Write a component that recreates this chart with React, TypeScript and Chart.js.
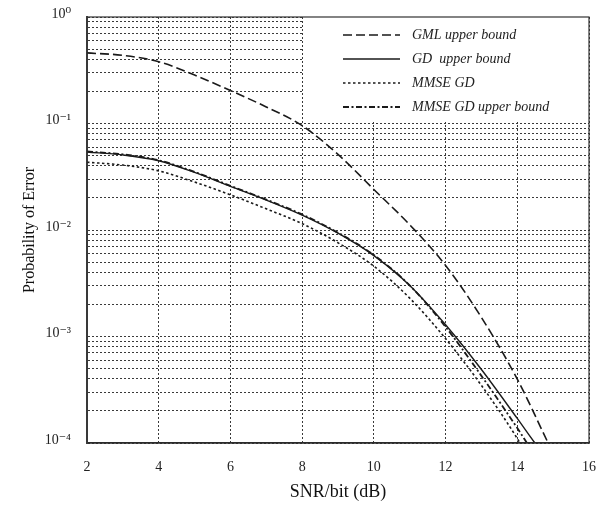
import React, { useEffect, useRef } from 'react';
import { Chart, registerables } from 'chart.js';

Chart.register(...registerables);

// ---- data ----
const gmlSnr = [2, 3, 4, 5, 6, 7, 8, 9, 10, 11, 12, 13, 14, 14.86];
const gmlPe = [0.46, 0.4365, 0.38, 0.285, 0.204, 0.143, 0.0955, 0.0513, 0.024, 0.0112, 0.00465, 0.00151, 0.000398, 0.0001];

const gdSnr = [2, 3, 4, 5, 6, 7, 8, 9, 10, 11, 12, 13, 14, 14.49];
const gdPe = [0.054, 0.0507, 0.0447, 0.0347, 0.0257, 0.0191, 0.0138, 0.00933, 0.00575, 0.00302, 0.00129, 0.00049, 0.00017, 0.0001];

const mmseSnr = [2, 3, 4, 5, 6, 7, 8, 9, 10, 11, 12, 13, 14, 14.07];
const mmsePe = [0.0433, 0.0407, 0.0359, 0.0282, 0.0214, 0.0158, 0.01148, 0.00759, 0.00457, 0.00229, 0.000955, 0.000347, 0.00011, 0.0001];

const mmseUbSnr = [2, 3, 4, 5, 6, 7, 8, 9, 10, 11, 12, 13, 14, 14.27];
const mmseUbPe = [0.0547, 0.0513, 0.0452, 0.0351, 0.026, 0.0193, 0.014, 0.00944, 0.00582, 0.00302, 0.00123, 0.000427, 0.000138, 0.0001];

const seriesLabels = ['GML upper bound', 'GD  upper bound', 'MMSE GD', 'MMSE GD upper bound'];

const xTicks = [2, 4, 6, 8, 10, 12, 14, 16];
const yDecades = [1e-4, 1e-3, 1e-2, 1e-1, 1];
const yDecadeLabels = ['10\u207B\u2074', '10\u207B\u00B3', '10\u207B\u00B2', '10\u207B\u00B9', '10\u2070'];
const yMantissas = [1, 2, 3, 4, 5, 6, 7, 8, 9];

const SERIF = "'Liberation Serif', 'DejaVu Serif', serif";
const INK = '#1a1a1a';

const pts = (xs: number[], ys: number[]) => xs.map((x, i) => ({ x, y: ys[i] }));

const yGridValues: number[] = [];
for (let d = 0; d < yDecades.length - 1; d++) {
  for (const m of yMantissas) yGridValues.push(m * yDecades[d]);
}
yGridValues.push(yDecades[yDecades.length - 1]);

const decadeLabel = (v: number) => {
  for (let i = 0; i < yDecades.length; i++) {
    if (Math.abs(v - yDecades[i]) / yDecades[i] < 1e-6) return yDecadeLabels[i];
  }
  return '';
};

const insetLegend = {
  id: 'insetLegend',
  beforeDatasetsDraw(chart: any) {
    const { ctx, chartArea, scales } = chart;
    const x0 = scales.x.getPixelForValue(8) + 1.5;
    const y1 = scales.y.getPixelForValue(0.1) - 1.5;
    ctx.save();
    ctx.fillStyle = '#ffffff';
    ctx.fillRect(x0, chartArea.top, chartArea.right - x0, y1 - chartArea.top);
    chart.data.datasets.forEach((ds: any, i: number) => {
      const y = 35 + i * 24;
      ctx.strokeStyle = ds.borderColor;
      ctx.lineWidth = ds.borderWidth;
      ctx.setLineDash(ds.borderDash || []);
      ctx.beginPath();
      ctx.moveTo(343, y);
      ctx.lineTo(400, y);
      ctx.stroke();
      ctx.setLineDash([]);
      ctx.fillStyle = '#222';
      ctx.font = `italic 14px ${SERIF}`;
      ctx.textBaseline = 'middle';
      ctx.textAlign = 'left';
      ctx.fillText(ds.label, 412, y);
    });
    ctx.restore();
  },
};

const frame = {
  id: 'frame',
  afterDraw(chart: any) {
    const { ctx, chartArea } = chart;
    ctx.save();
    ctx.strokeStyle = '#333';
    ctx.lineWidth = 1.2;
    ctx.strokeRect(chartArea.left, chartArea.top, chartArea.right - chartArea.left, chartArea.bottom - chartArea.top);
    ctx.restore();
  },
};

export default function App() {
  const ref = useRef<HTMLCanvasElement>(null);

  useEffect(() => {
    const line = (label: string, data: any[], dash: number[], width: number) => ({
      label,
      data,
      borderColor: INK,
      borderWidth: width,
      borderDash: dash,
      pointRadius: 0,
      fill: false,
      tension: 0.4,
      cubicInterpolationMode: 'monotone' as const,
    });

    const chart = new Chart(ref.current as HTMLCanvasElement, {
      type: 'line',
      data: {
        datasets: [
          line(seriesLabels[0], pts(gmlSnr, gmlPe), [9, 4], 1.6),
          line(seriesLabels[1], pts(gdSnr, gdPe), [], 1.4),
          line(seriesLabels[2], pts(mmseSnr, mmsePe), [2.5, 2.5], 1.6),
          line(seriesLabels[3], pts(mmseUbSnr, mmseUbPe), [6, 2.5, 2, 2.5], 1.8),
        ],
      },
      options: {
        responsive: false,
        animation: false,
        devicePixelRatio: 1,
        layout: { padding: { top: 17, right: 23, bottom: 0, left: 0 } },
        plugins: { legend: { display: false }, tooltip: { enabled: false } },
        scales: {
          x: {
            type: 'linear',
            min: 2,
            max: 16,
            afterBuildTicks: (scale: any) => {
              scale.ticks = xTicks.map((v) => ({ value: v }));
            },
            afterFit: (scale: any) => {
              scale.height = 63;
            },
            ticks: {
              autoSkip: false,
              maxRotation: 0,
              padding: 3,
              color: '#222',
              font: { family: SERIF, size: 14 },
              callback: (v: any) => String(v),
            },
            grid: { color: '#3a3a3a', lineWidth: 1, drawTicks: true, tickLength: 13, tickColor: 'rgba(0,0,0,0)' },
            border: { display: true, color: '#222', width: 1.6, dash: [2, 2] },
            title: {
              display: true,
              text: 'SNR/bit (dB)',
              color: '#111',
              font: { family: SERIF, size: 18 },
              padding: { top: 0, bottom: 3 },
            },
          },
          y: {
            type: 'logarithmic',
            min: 1e-4,
            max: 1,
            afterBuildTicks: (scale: any) => {
              scale.ticks = yGridValues.map((v) => ({ value: v }));
            },
            afterFit: (scale: any) => {
              scale.width = 87;
            },
            ticks: {
              autoSkip: false,
              padding: 3,
              labelOffset: -3,
              color: '#222',
              font: { family: SERIF, size: 14 },
              callback: (v: any) => decadeLabel(Number(v)),
            },
            grid: { color: '#3a3a3a', lineWidth: 1, drawTicks: true, tickLength: 13, tickColor: 'rgba(0,0,0,0)' },
            border: { display: true, color: '#444', width: 2, dash: [2, 2] },
            title: {
              display: true,
              text: 'Probability of Error',
              color: '#111',
              font: { family: SERIF, size: 16 },
              padding: { top: 20, bottom: 0 },
            },
          },
        },
      } as any,
      plugins: [insetLegend, frame],
    });
    return () => chart.destroy();
  }, []);

  return (
    <div style={{ position: 'fixed', left: 0, top: 0, width: 612, height: 506, background: '#fff' }}>
      <canvas ref={ref} width={612} height={506} style={{ display: 'block', width: 612, height: 506 }} />
    </div>
  );
}
